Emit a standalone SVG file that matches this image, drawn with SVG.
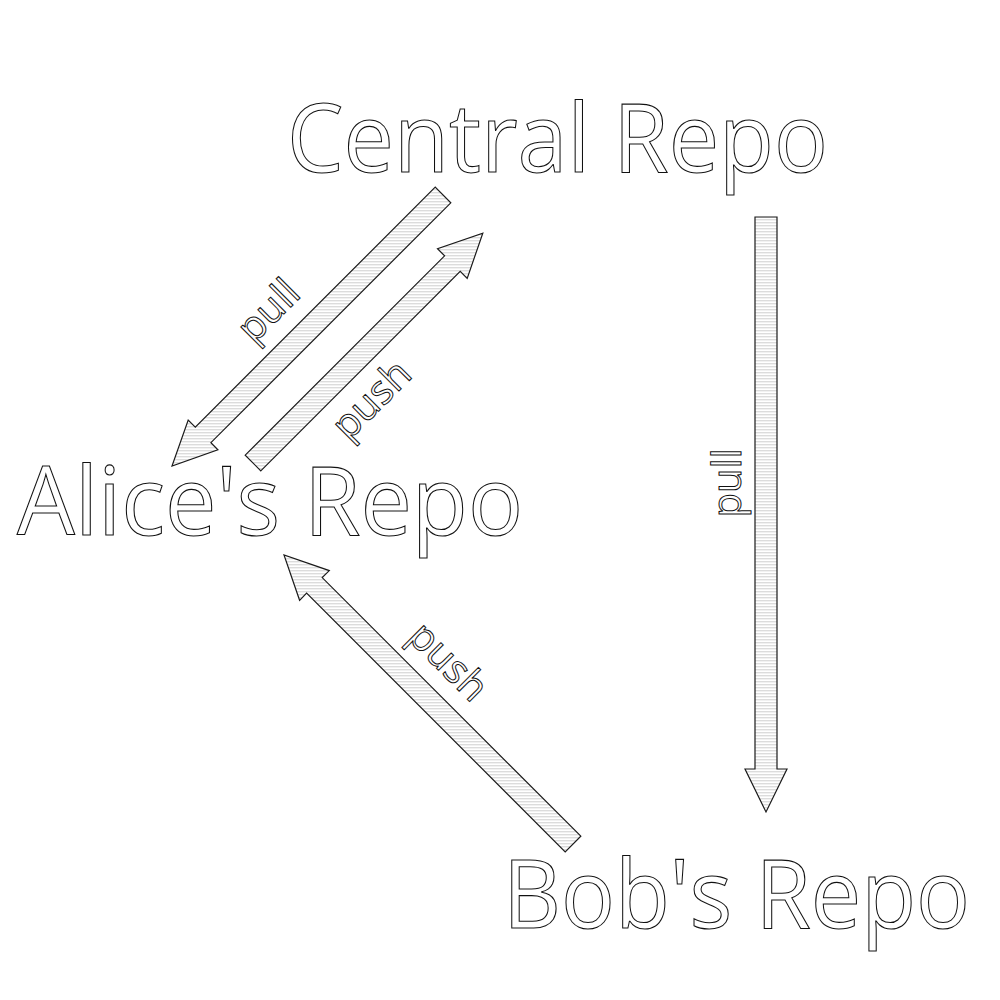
<svg xmlns="http://www.w3.org/2000/svg" width="1000" height="1000" viewBox="0 0 1000 1000">
<defs>
<pattern id="hatch" patternUnits="userSpaceOnUse" width="10" height="3">
<rect width="10" height="3" fill="#ffffff"/>
<rect y="0" width="10" height="1.4" fill="#dcdcdc"/>
</pattern>
<style>
.arrow{fill:url(#hatch);stroke:#1a1a1a;stroke-width:1.2;stroke-linejoin:miter}
.big{font-family:"Open Sans","Noto Sans","Liberation Sans",sans-serif;font-size:95px;fill:#ffffff;stroke:#111111;stroke-width:1.1}
.lbl{font-family:"Open Sans","Noto Sans","Liberation Sans",sans-serif;font-size:40px;fill:#ffffff;stroke:#111111;stroke-width:1;text-anchor:middle}
</style>
</defs>
<rect width="1000" height="1000" fill="#ffffff"/>
<g id="connectors">
<g id="pull-central-alice">
<path class="arrow" d="M435.2,187.2 L195.3,427.1 L188.2,420.1 L172,466 L217.9,449.8 L210.9,442.7 L450.8,202.8 Z"/>
<text class="lbl" transform="translate(278,320) rotate(-45)">pull</text>
</g>
<g id="push-alice-central">
<path class="arrow" d="M260.8,470.8 L460.2,271.4 L467.2,278.4 L482.8,233.2 L437.5,248.7 L444.6,255.8 L245.2,455.2 Z"/>
<text class="lbl" transform="translate(381,409) rotate(-45)">push</text>
</g>
<g id="pull-central-bob">
<path class="arrow" d="M755,217 L777,217 L777,769 L787,769 L766,812 L745,769 L755,769 Z"/>
<text class="lbl" transform="translate(741,483) rotate(-90)">pull</text>
</g>
<g id="push-bob-alice">
<path class="arrow" d="M580.8,836.2 L322.2,577.6 L329.3,570.6 L284,555 L299.6,600.3 L306.6,593.2 L565.2,851.8 Z"/>
<text class="lbl" transform="translate(439,671) rotate(45)">push</text>
</g>
</g>
<g id="central">
<text class="big" x="287" y="172" textLength="541" lengthAdjust="spacingAndGlyphs">Central Repo</text>
</g>
<g id="alice">
<text class="big" x="17" y="535" textLength="506" lengthAdjust="spacingAndGlyphs">Alice's Repo</text>
</g>
<g id="bob">
<text class="big" x="503" y="928" textLength="467" lengthAdjust="spacingAndGlyphs">Bob's Repo</text>
</g>
</svg>
